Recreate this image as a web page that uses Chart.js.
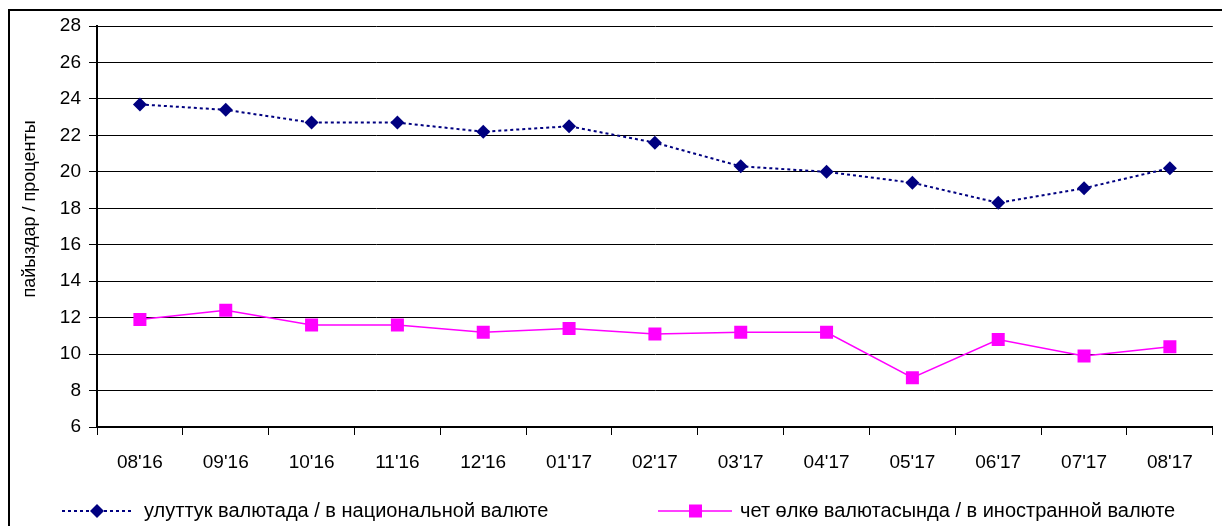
<!DOCTYPE html>
<html>
<head>
<meta charset="utf-8">
<script src="https://cdn.jsdelivr.net/npm/chart.js@4/dist/chart.umd.min.js"></script>
<style>
  html, body { margin: 0; padding: 0; background: #fff; overflow: hidden; }
  #wrap { position: relative; width: 1222px; height: 526px; }
</style>
</head>
<body>
<div id="wrap"><canvas id="chart" width="1222" height="526"></canvas></div>
<script>
// ===============================
// Data
// ===============================
const months = ["08'16", "09'16", "10'16", "11'16", "12'16", "01'17", "02'17", "03'17", "04'17", "05'17", "06'17", "07'17", "08'17"];
const nationalCurrency = [23.7, 23.4, 22.7, 22.7, 22.2, 22.5, 21.6, 20.3, 20.0, 19.4, 18.3, 19.1, 20.2];
const foreignCurrency = [11.9, 12.4, 11.6, 11.6, 11.2, 11.4, 11.1, 11.2, 11.2, 8.7, 10.8, 9.9, 10.4];
const nationalLabel = "улуттук валютада / в национальной валюте";
const foreignLabel = "чет өлкө валютасында / в иностранной валюте";
const yTitle = "пайыздар / проценты";

const FONT = "'Liberation Sans', Arial, sans-serif";

// ===============================
// Frame, axis title + legend plugin
// ===============================
const framePlugin = {
	id: "frame",
	beforeDraw(chart) {
		const ctx = chart.ctx;
		ctx.save();
		ctx.strokeStyle = "#000";
		ctx.lineWidth = 2;
		ctx.strokeRect(9, 10, 1300, 600);
		ctx.restore();
	},
	afterDraw(chart) {
		const ctx = chart.ctx;
		const y = 511;
		ctx.save();
		// y axis title
		ctx.fillStyle = "#000";
		ctx.font = "18px " + FONT;
		ctx.textAlign = "center";
		ctx.textBaseline = "middle";
		ctx.translate(30, 209);
		ctx.rotate(-Math.PI / 2);
		ctx.fillText(yTitle, 0, 0);
		ctx.restore();

		ctx.save();
		// national
		ctx.strokeStyle = "#000080";
		ctx.lineWidth = 2;
		ctx.setLineDash([3, 3]);
		ctx.beginPath();
		ctx.moveTo(62, y);
		ctx.lineTo(132, y);
		ctx.stroke();
		ctx.setLineDash([]);
		ctx.fillStyle = "#000080";
		ctx.beginPath();
		ctx.moveTo(97, y - 7);
		ctx.lineTo(104, y);
		ctx.lineTo(97, y + 7);
		ctx.lineTo(90, y);
		ctx.closePath();
		ctx.fill();
		// foreign
		ctx.strokeStyle = "#FF00FF";
		ctx.lineWidth = 1.5;
		ctx.beginPath();
		ctx.moveTo(658, y);
		ctx.lineTo(732, y);
		ctx.stroke();
		ctx.fillStyle = "#FF00FF";
		ctx.fillRect(689, y - 6.5, 13, 13);
		// texts
		ctx.fillStyle = "#000";
		ctx.font = "20px " + FONT;
		ctx.textBaseline = "middle";
		ctx.textAlign = "left";
		ctx.fillText(chart.data.datasets[0].label, 144, y);
		ctx.fillText(chart.data.datasets[1].label, 740, y);
		ctx.restore();
	}
};

// ===============================
// Chart
// ===============================
new Chart(document.getElementById("chart"), {
	type: "line",
	data: {
		labels: months,
		datasets: [
			{
				label: nationalLabel,
				data: nationalCurrency,
				borderColor: "#000080",
				backgroundColor: "#000080",
				borderWidth: 2,
				borderDash: [3, 3],
				pointStyle: "rectRot",
				pointRadius: 7,
				pointBorderWidth: 0,
				tension: 0
			},
			{
				label: foreignLabel,
				data: foreignCurrency,
				borderColor: "#FF00FF",
				backgroundColor: "#FF00FF",
				borderWidth: 1.5,
				pointStyle: "rect",
				pointRadius: 9.2,
				pointBorderWidth: 0,
				tension: 0
			}
		]
	},
	options: {
		responsive: false,
		animation: false,
		layout: { padding: { top: 26, left: 0, right: 0, bottom: 46 } },
		plugins: {
			legend: { display: false },
			tooltip: { enabled: false }
		},
		scales: {
			x: {
				offset: true,
				grid: {
					offset: true,
					drawOnChartArea: false,
					color: "#000",
					tickLength: 8,
					lineWidth: 1
				},
				border: { color: "#000", width: 2 },
				ticks: {
					color: "#000",
					font: { family: FONT, size: 19 },
					padding: 16,
					maxRotation: 0,
					autoSkip: false
				},
				afterFit(scale) { scale.height = 53; }
			},
			y: {
				min: 6,
				max: 28,
				grid: {
					color: "#000",
					tickLength: 8,
					lineWidth: 1
				},
				border: { color: "#000", width: 2 },
				ticks: {
					stepSize: 2,
					color: "#000",
					font: { family: FONT, size: 19 },
					padding: 8
				},
				afterFit(scale) { scale.width = 97; }
			}
		}
	},
	plugins: [framePlugin]
});
</script>
</body>
</html>
